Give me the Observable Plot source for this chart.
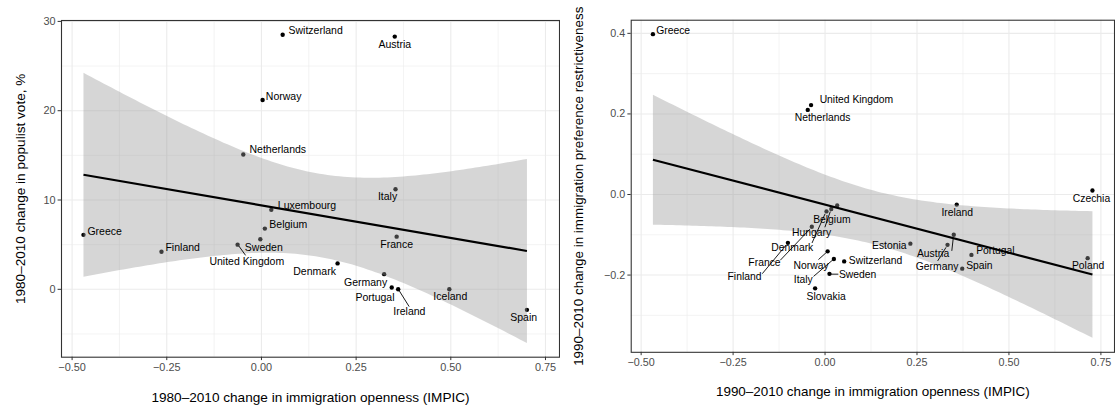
<!DOCTYPE html>
<html><head><meta charset="utf-8">
<script src="https://cdn.jsdelivr.net/npm/d3@7"></script>
<script src="https://cdn.jsdelivr.net/npm/@observablehq/plot@0.6"></script>
<style>
html,body{margin:0;padding:0;background:#fff;}
#wrap{position:relative;width:1115px;height:406px;overflow:hidden;font-family:"Liberation Sans",Arial,sans-serif;}
#wrap > div{position:absolute;top:0;}
</style></head><body>
<div id="wrap"><div id="p1" style="left:0px"></div><div id="p2" style="left:560px"></div></div>
<script>
// ---------- data: panel 1 ----------
const countries1 = ["Switzerland","Austria","Norway","Netherlands","Italy","Luxembourg","Belgium","Sweden","United Kingdom","Denmark","Greece","Finland","France","Germany","Portugal","Ireland","Iceland","Spain"];
const impic1 = [0.056,0.352,0.003,-0.048,0.354,0.026,0.009,-0.003,-0.063,0.201,-0.47,-0.264,0.357,0.324,0.344,0.361,0.496,0.701];
const populist1 = [28.5,28.3,21.2,15.1,11.2,8.9,6.8,5.6,5.0,2.9,6.1,4.2,5.9,1.7,0.2,0.0,0.0,-2.3];
// ---------- data: panel 2 ----------
const countries2 = ["Greece","United Kingdom","Netherlands","Czechia","Ireland","Belgium","Hungary","Denmark","France","Finland","Estonia","Austria","Germany","Portugal","Spain","Poland","Switzerland","Sweden","Slovakia","Italy","Norway"];
const impic2 = [-0.468,-0.038,-0.047,0.727,0.358,0.033,0.017,0.004,-0.036,-0.101,0.232,0.350,0.333,0.398,0.373,0.714,0.052,0.012,-0.027,0.024,0.007];
const restrict2 = [0.398,0.222,0.210,0.010,-0.025,-0.027,-0.036,-0.042,-0.080,-0.120,-0.122,-0.100,-0.125,-0.150,-0.184,-0.158,-0.166,-0.197,-0.233,-0.160,-0.141];
// ---------- axes ----------
const xTicks = [-0.5,-0.25,0,0.25,0.5,0.75];
const xMinor = [-0.375,-0.125,0.125,0.375,0.625];
const yTicks1 = [0,10,20,30];
const yMinor1 = [-5,5,15,25];
const yTicks2 = [-0.2,0,0.2,0.4];
const yMinor2 = [-0.3,-0.1,0.1,0.3];
const xTitle1 = "1980–2010 change in immigration openness (IMPIC)";
const yTitle1 = "1980–2010 change in populist vote, %";
const xTitle2 = "1990–2010 change in immigration openness (IMPIC)";
const yTitle2 = "1990–2010 change in immigration preference restrictiveness";

// ---------- label layout (pixel offsets of label centre; optional leader segment) ----------
const layout1 = {
  "Switzerland":[33,-4], "Austria":[0,8.3], "Norway":[21,-3.6], "Netherlands":[34.5,-4.4],
  "Italy":[-8,7.5], "Luxembourg":[35.7,-4.7], "Belgium":[23.4,-4.4], "Sweden":[3.5,8],
  "United Kingdom":[9.2,16.7,[1.3,1.4,8,10.7]], "Denmark":[-23,8], "Greece":[21.2,-3.7],
  "Finland":[21.2,-4], "France":[0,7.6], "Germany":[-18.6,8], "Portugal":[-16.8,9.7],
  "Ireland":[11.2,22.3,[1,1.3,11,17.3]], "Iceland":[1,7.6], "Spain":[-3.3,8]
};
const layout2 = {
  "Greece":[20.5,-3.6], "United Kingdom":[46,-5], "Netherlands":[15,8.3], "Czechia":[-1,8],
  "Ireland":[0.5,8.3], "Belgium":[-5.4,14],
  "Hungary":[-20,24.5,[-1,2.5,-6.5,18.5]], "Denmark":[-34.7,37,[-1.5,2.5,-14.7,32]],
  "France":[-48,36,[-2,2.5,-32,34]], "Finland":[-44,34.3,[-2,2.5,-26,31.3]],
  "Estonia":[-21.4,1.6], "Austria":[-21,19,[-0.5,3,-2,16.3]], "Germany":[-10.6,22.6,[-1.5,2.5,-10,16.3]],
  "Portugal":[24.3,-4], "Spain":[17.4,-2.7], "Poland":[0.4,8], "Switzerland":[31.8,-1],
  "Sweden":[28.5,1,[1.3,0.3,9,0.3]], "Slovakia":[11.2,8], "Italy":[-31,21,[0,0,-20.6,17.7]],
  "Norway":[-16.7,15,[0,0,-9.3,8.4]]
};

function panel(cfg) {
  const data = cfg.names.map((n, i) => ({name: n, x: cfg.xs[i], y: cfg.ys[i]}));
  const iw = cfg.width - cfg.ml - cfg.mr, ih = cfg.height - cfg.mt - cfg.mb;
  const kx = iw / (cfg.xd[1] - cfg.xd[0]), ky = ih / (cfg.yd[1] - cfg.yd[0]);
  const labelMarks = data.map(d => {
    const L = cfg.layout[d.name];
    return Plot.text([d], {x: "x", y: "y", text: "name", dx: L[0], dy: L[1], fill: "black", fontSize: 10.5});
  });
  const segs = data.filter(d => cfg.layout[d.name][2]).map(d => {
    const s = cfg.layout[d.name][2];
    return {x1: d.x + s[0] / kx, y1: d.y - s[1] / ky, x2: d.x + s[2] / kx, y2: d.y - s[3] / ky};
  });
  return Plot.plot({
    width: cfg.width, height: cfg.height,
    marginLeft: cfg.ml, marginRight: cfg.mr, marginTop: cfg.mt, marginBottom: cfg.mb,
    style: {fontFamily: '"Liberation Sans", Arial, sans-serif', background: "white", overflow: "visible"},
    x: {domain: cfg.xd, nice: false},
    y: {domain: cfg.yd, nice: false},
    marks: [
      Plot.gridX(xMinor, {stroke: "#EBEBEB", strokeOpacity: 1, strokeWidth: 0.6}),
      Plot.gridY(cfg.yMinor, {stroke: "#EBEBEB", strokeOpacity: 1, strokeWidth: 0.6}),
      Plot.gridX(xTicks, {stroke: "#EBEBEB", strokeOpacity: 1, strokeWidth: 1.1}),
      Plot.gridY(cfg.yTicks, {stroke: "#EBEBEB", strokeOpacity: 1, strokeWidth: 1.1}),
      Plot.axisX({ticks: xTicks, tickFormat: d3.format(".2f"), tickSize: 3.4, tickPadding: 2.6, stroke: "#333333", fill: "#4D4D4D", fontSize: 10.9, label: null}),
      Plot.axisY({ticks: cfg.yTicks, tickFormat: cfg.yFmt, tickSize: 3.4, tickPadding: 2.6, stroke: "#333333", fill: "#4D4D4D", fontSize: 10.9, label: null}),
      Plot.dot(data, {x: "x", y: "y", r: 2.2, fill: "black", stroke: null}),
      Plot.linearRegressionY(data, {x: "x", y: "y", stroke: "black", strokeWidth: 2.2, strokeLinecap: "butt", fill: "#999999", fillOpacity: 0.4}),
      Plot.link(segs, {x1: "x1", y1: "y1", x2: "x2", y2: "y2", stroke: "black", strokeWidth: 0.9}),
      ...labelMarks,
      Plot.frame({stroke: "#333333", strokeWidth: 1.1}),
      Plot.text([cfg.xTitle], {frameAnchor: "bottom", dy: 40.3, textAnchor: "middle", lineAnchor: "middle", text: d => d, fontSize: 13.6, fill: "black"}),
      Plot.text([cfg.yTitle], {frameAnchor: "left", dx: cfg.ytDx, rotate: -90, textAnchor: "middle", lineAnchor: "middle", text: d => d, fontSize: 13.6, fill: "black"})
    ]
  });
}

document.getElementById("p1").append(panel({
  names: countries1, xs: impic1, ys: populist1, layout: layout1,
  width: 560, height: 406, ml: 61, mr: 1, mt: 20, mb: 49.3,
  xd: [-0.528, 0.787], yd: [-7.6, 30.1],
  yTicks: yTicks1, yMinor: yMinor1, yFmt: d3.format("d"),
  xTitle: xTitle1, yTitle: yTitle1, ytDx: -41
}));
document.getElementById("p2").append(panel({
  names: countries2, xs: impic2, ys: restrict2, layout: layout2,
  width: 562.7, height: 406, ml: 71.7, mr: 1, mt: 20, mb: 49.3,
  xd: [-0.527, 0.787], yd: [-0.3917, 0.4326],
  yTicks: yTicks2, yMinor: yMinor2, yFmt: d3.format(".1f"),
  xTitle: xTitle2, yTitle: yTitle2, ytDx: -53
}));
</script>
</body></html>
